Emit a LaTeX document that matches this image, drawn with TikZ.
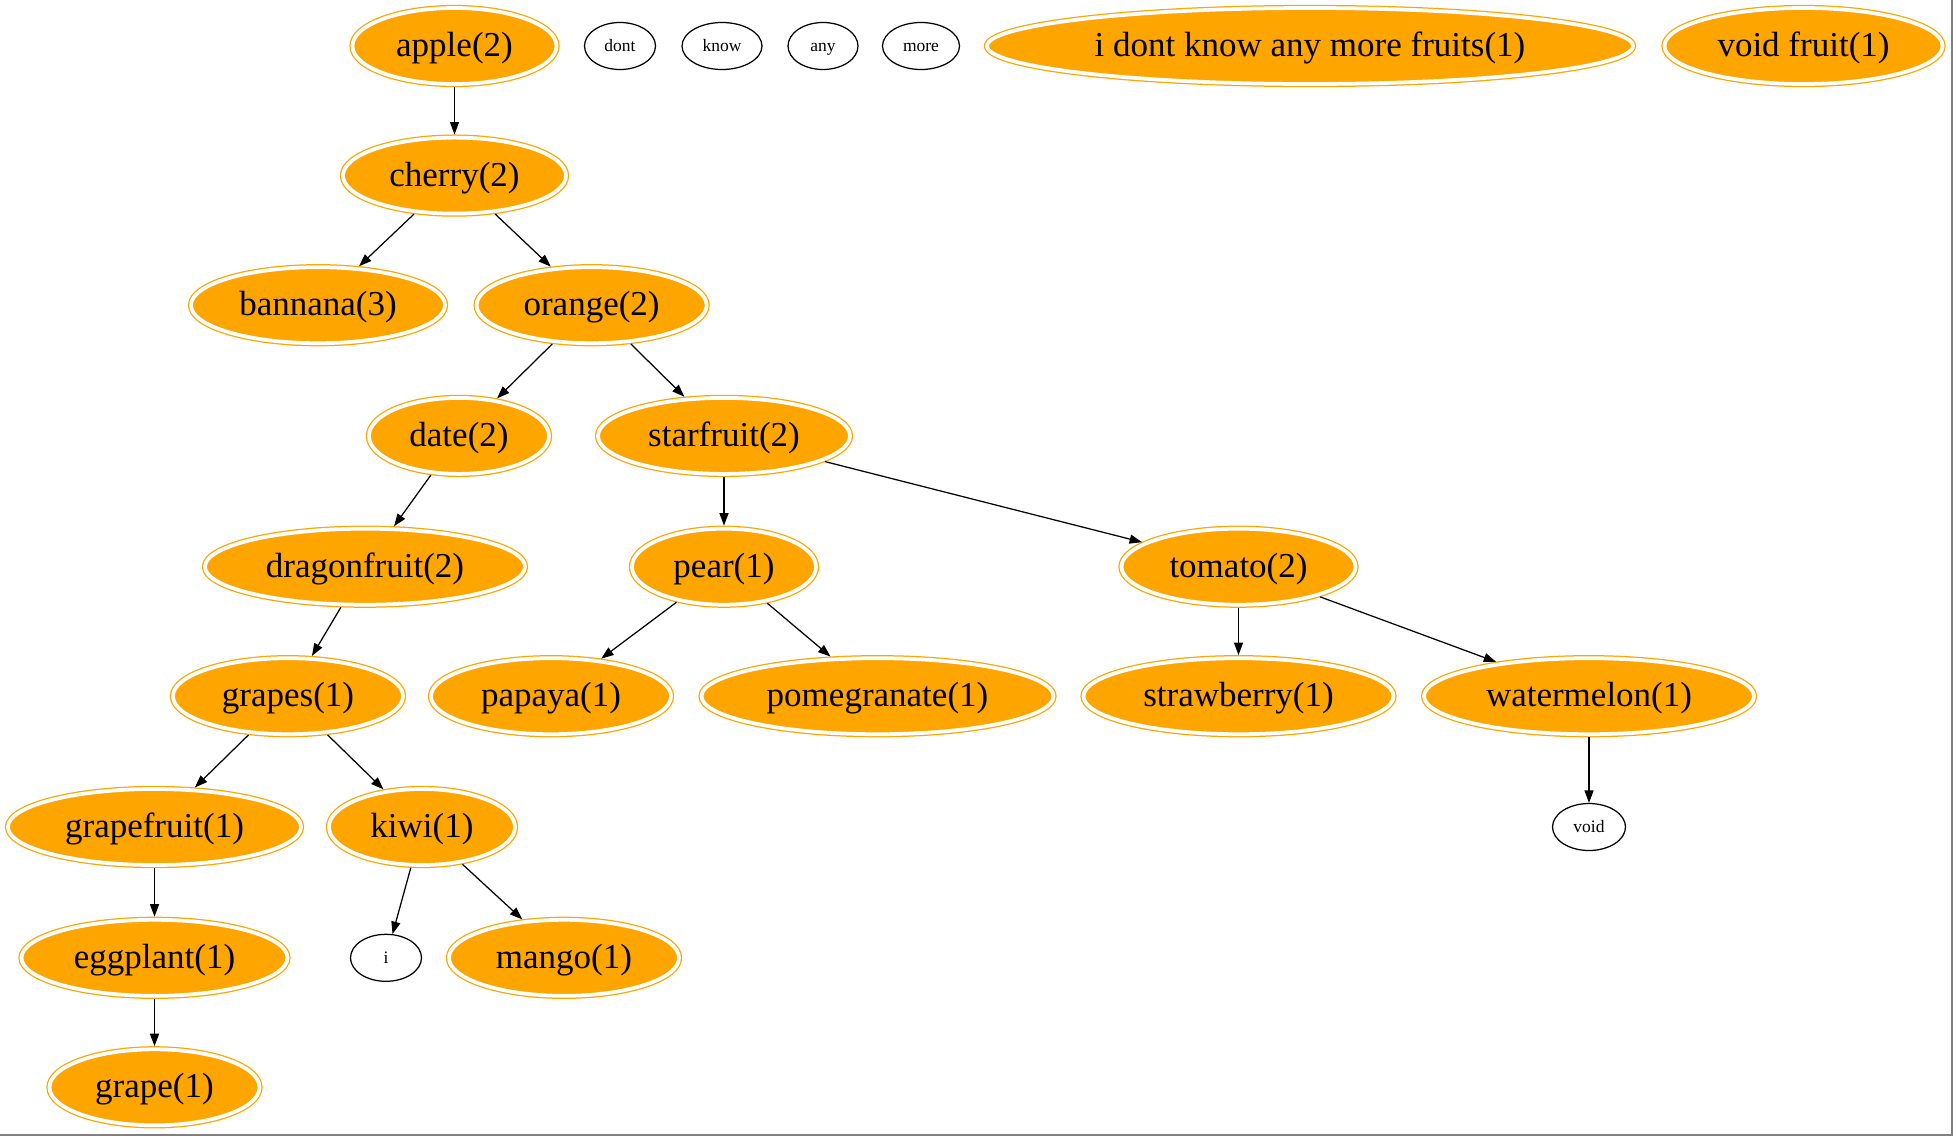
\documentclass[tikz,border=0pt]{standalone}
\usepackage{fontspec}
\setmainfont{Liberation Serif}
\usetikzlibrary{shapes.geometric,arrows.meta}
\definecolor{fruitorange}{HTML}{FFA500}
\definecolor{framegray}{RGB}{128,128,128}
\begin{document}
\begin{tikzpicture}[x=1pt,y=-1pt,
  fruit/.style={ellipse, draw=fruitorange, fill=fruitorange, double=white,
    double distance=3.75pt, line width=1.25pt, inner sep=0pt, outer sep=3.1pt,
    minimum height=76pt, text height=24pt, text depth=3pt,
    font=\fontsize{35}{40}\selectfont},
  word/.style={ellipse, draw=black, line width=1.25pt, inner sep=0pt, outer sep=0.6pt,
    minimum height=47pt, text height=12pt, text depth=1pt,
    font=\fontsize{17.5}{20}\selectfont},
  edge/.style={draw=black, line width=1.25pt, -{Triangle[length=12.5pt,width=9pt]}}]
\useasboundingbox (0,0) rectangle (1953,1136);
\fill[white] (0,0) rectangle (1953,1136);
% frame on the right and bottom edges
\draw[framegray, line width=2pt] (1952,0) -- (1952,1135) -- (0,1135);

% top row
\node[fruit, minimum width=204pt] (apple) at (454.5,46) {apple(2)};
\node[word, minimum width=71pt] (dont) at (620,46) {dont};
\node[word, minimum width=80pt] (know) at (722,46) {know};
\node[word, minimum width=70pt] (any) at (823,46) {any};
\node[word, minimum width=77pt] (more) at (921,46) {more};
\node[fruit, minimum width=646pt] (idk) at (1310,46) {i dont know any more fruits(1)};
\node[fruit, minimum width=278pt] (voidfruit) at (1803.5,46) {void fruit(1)};

% tree
\node[fruit, minimum width=223pt] (cherry) at (454.5,175.6) {cherry(2)};
\node[fruit, minimum width=254pt] (bannana) at (318,305.2) {bannana(3)};
\node[fruit, minimum width=230pt] (orange) at (591.6,305.2) {orange(2)};
\node[fruit, minimum width=180pt] (date) at (459,435.9) {date(2)};
\node[fruit, minimum width=252pt] (starfruit) at (724,435.9) {starfruit(2)};
\node[fruit, minimum width=320pt] (dragonfruit) at (365,566.7) {dragonfruit(2)};
\node[fruit, minimum width=184pt] (pear) at (724,566.7) {pear(1)};
\node[fruit, minimum width=234pt] (tomato) at (1238.5,566.7) {tomato(2)};
\node[fruit, minimum width=230pt] (grapes) at (288,696.2) {grapes(1)};
\node[fruit, minimum width=240pt] (papaya) at (551,696.2) {papaya(1)};
\node[fruit, minimum width=352pt] (pomegranate) at (877.5,696.2) {pomegranate(1)};
\node[fruit, minimum width=310pt] (strawberry) at (1238.5,696.2) {strawberry(1)};
\node[fruit, minimum width=330pt] (watermelon) at (1589,696.2) {watermelon(1)};
\node[fruit, minimum width=293pt] (grapefruit) at (154.5,827) {grapefruit(1)};
\node[fruit, minimum width=186pt] (kiwi) at (422,827) {kiwi(1)};
\node[word, minimum width=73pt] (void) at (1589,827) {void};
\node[fruit, minimum width=266pt] (eggplant) at (154.5,957.8) {eggplant(1)};
\node[word, minimum width=71pt] (i) at (386,957.8) {i};
\node[fruit, minimum width=230pt] (mango) at (564,957.8) {mango(1)};
\node[fruit, minimum width=210pt] (grape) at (154.5,1087.3) {grape(1)};

% edges
\draw[edge] (apple) -- (cherry);
\draw[edge] (cherry) -- (bannana);
\draw[edge] (cherry) -- (orange);
\draw[edge] (orange) -- (date);
\draw[edge] (orange) -- (starfruit);
\draw[edge] (date) -- (dragonfruit);
\draw[edge] (starfruit) -- (pear);
\draw[edge] (starfruit) -- (tomato);
\draw[edge] (dragonfruit) -- (grapes);
\draw[edge] (pear) -- (papaya);
\draw[edge] (pear) -- (pomegranate);
\draw[edge] (tomato) -- (strawberry);
\draw[edge] (tomato) -- (watermelon);
\draw[edge] (grapes) -- (grapefruit);
\draw[edge] (grapes) -- (kiwi);
\draw[edge] (grapefruit) -- (eggplant);
\draw[edge] (kiwi) -- (i);
\draw[edge] (kiwi) -- (mango);
\draw[edge] (eggplant) -- (grape);
\draw[edge] (watermelon) -- (void);
\end{tikzpicture}
\end{document}
